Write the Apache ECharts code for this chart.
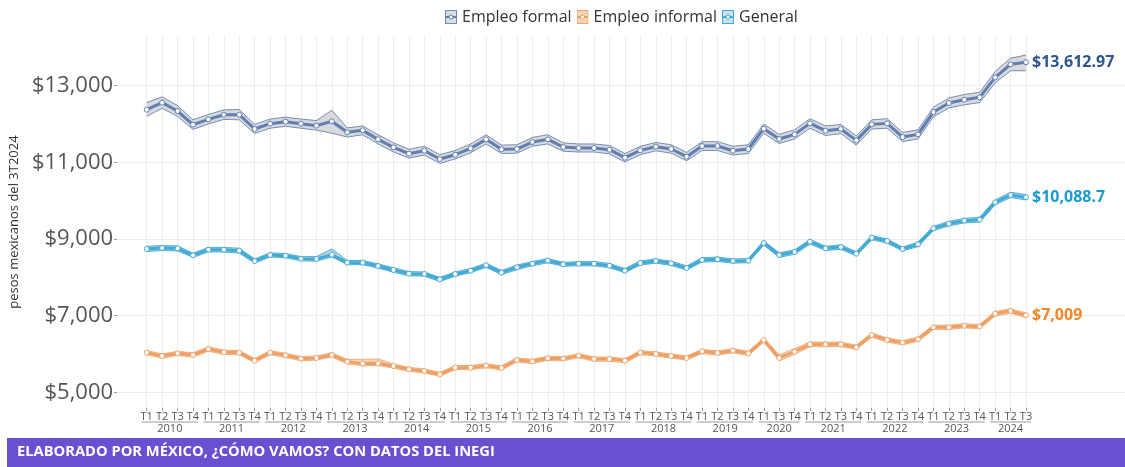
<!DOCTYPE html>
<html>
<head>
<meta charset="utf-8">
<script src="https://cdn.jsdelivr.net/npm/echarts@6/dist/echarts.min.js"></script>
<style>
  html, body { margin: 0; padding: 0; background: #fff; }
  #chart { width: 1125px; height: 467px; }
</style>
</head>
<body>
<div id="chart"></div>
<script>
// periods (2020 T2 is missing in the source data)
const periods = [
    '2010 T1', '2010 T2', '2010 T3', '2010 T4',
    '2011 T1', '2011 T2', '2011 T3', '2011 T4',
    '2012 T1', '2012 T2', '2012 T3', '2012 T4',
    '2013 T1', '2013 T2', '2013 T3', '2013 T4',
    '2014 T1', '2014 T2', '2014 T3', '2014 T4',
    '2015 T1', '2015 T2', '2015 T3', '2015 T4',
    '2016 T1', '2016 T2', '2016 T3', '2016 T4',
    '2017 T1', '2017 T2', '2017 T3', '2017 T4',
    '2018 T1', '2018 T2', '2018 T3', '2018 T4',
    '2019 T1', '2019 T2', '2019 T3', '2019 T4',
    '2020 T1', '2020 T3', '2020 T4',
    '2021 T1', '2021 T2', '2021 T3', '2021 T4',
    '2022 T1', '2022 T2', '2022 T3', '2022 T4',
    '2023 T1', '2023 T2', '2023 T3', '2023 T4',
    '2024 T1', '2024 T2', '2024 T3'
];

const yTicks = [5000, 7000, 9000, 11000, 13000];

const formal = [12374, 12557, 12339, 11983, 12122, 12243, 12243, 11870, 12009, 12061, 12009, 11957,
    12070, 11783, 11835, 11600, 11391, 11226, 11304, 11087, 11200, 11365, 11600, 11339,
    11348, 11530, 11600, 11400, 11374, 11374, 11330, 11122, 11313, 11409, 11348, 11148,
    11426, 11426, 11304, 11348, 11878, 11609, 11730, 12017, 11826, 11870, 11574, 11991,
    12017, 11661, 11730, 12313, 12548, 12635, 12696, 13217, 13557, 13612.97];
const formalHi = [12560, 12710, 12480, 12110, 12250, 12370, 12380, 11990, 12130, 12180, 12130, 12090,
    12360, 11900, 11950, 11720, 11510, 11340, 11420, 11200, 11310, 11480, 11720, 11450,
    11460, 11650, 11720, 11510, 11480, 11480, 11440, 11230, 11420, 11520, 11460, 11260,
    11540, 11540, 11420, 11460, 12000, 11730, 11850, 12140, 11950, 11990, 11690, 12110,
    12140, 11780, 11850, 12440, 12680, 12770, 12830, 13370, 13720, 13800];
const formalLo = [12200, 12410, 12200, 11860, 12000, 12120, 12110, 11750, 11890, 11940, 11890, 11840,
    11760, 11660, 11720, 11480, 11270, 11110, 11190, 10970, 11090, 11250, 11480, 11230,
    11240, 11420, 11480, 11290, 11270, 11270, 11220, 11010, 11200, 11300, 11240, 11040,
    11310, 11310, 11190, 11230, 11760, 11490, 11610, 11890, 11700, 11750, 11450, 11870,
    11890, 11540, 11610, 12190, 12420, 12500, 12560, 13070, 13390, 13390];

const informal = [6035, 5948, 6017, 5974, 6130, 6043, 6035, 5826, 6035, 5965, 5878, 5896,
    5974, 5800, 5748, 5757, 5687, 5600, 5557, 5470, 5643, 5643, 5696, 5635,
    5843, 5809, 5887, 5878, 5957, 5870, 5870, 5826, 6035, 6000, 5948, 5896,
    6070, 6026, 6087, 6017, 6365, 5896, 6061, 6252, 6252, 6252, 6174, 6496,
    6365, 6296, 6383, 6696, 6696, 6739, 6713, 7052, 7122, 7009];
const informalHi = [6090, 6000, 6070, 6030, 6190, 6100, 6090, 5880, 6090, 6020, 5930, 5950,
    6030, 5860, 5860, 5870, 5740, 5650, 5610, 5520, 5700, 5700, 5750, 5690,
    5900, 5860, 5940, 5930, 6010, 5920, 5920, 5880, 6090, 6050, 6000, 5950,
    6120, 6080, 6140, 6070, 6420, 5980, 6140, 6310, 6310, 6310, 6230, 6550,
    6420, 6350, 6440, 6750, 6750, 6790, 6770, 7110, 7180, 7070];
const informalLo = [5980, 5890, 5960, 5920, 6070, 5990, 5980, 5770, 5980, 5910, 5820, 5840,
    5920, 5740, 5690, 5700, 5630, 5550, 5500, 5420, 5590, 5590, 5640, 5580,
    5790, 5750, 5830, 5820, 5900, 5810, 5810, 5770, 5980, 5950, 5890, 5840,
    6010, 5970, 6030, 5960, 6310, 5820, 5990, 6190, 6190, 6190, 6120, 6440,
    6310, 6240, 6330, 6640, 6640, 6680, 6660, 6990, 7060, 6950];

const general = [8739, 8765, 8757, 8574, 8722, 8722, 8696, 8426, 8583, 8565, 8487, 8478,
    8591, 8383, 8383, 8296, 8191, 8096, 8087, 7948, 8087, 8174, 8313, 8122,
    8261, 8357, 8435, 8339, 8357, 8357, 8304, 8174, 8374, 8426, 8365, 8243,
    8452, 8470, 8426, 8435, 8896, 8583, 8661, 8930, 8757, 8791, 8617, 9035,
    8948, 8739, 8861, 9278, 9400, 9478, 9504, 9957, 10148, 10088.7];
const generalHi = [8810, 8830, 8820, 8630, 8780, 8780, 8760, 8480, 8640, 8620, 8540, 8540,
    8740, 8440, 8440, 8350, 8250, 8150, 8140, 8000, 8140, 8230, 8370, 8180,
    8320, 8410, 8490, 8390, 8410, 8410, 8360, 8230, 8430, 8480, 8420, 8300,
    8510, 8530, 8480, 8490, 8950, 8640, 8720, 8990, 8810, 8850, 8670, 9090,
    9000, 8790, 8920, 9330, 9460, 9540, 9570, 10020, 10220, 10160];
const generalLo = [8670, 8700, 8690, 8520, 8660, 8660, 8630, 8370, 8530, 8510, 8430, 8420,
    8530, 8330, 8330, 8240, 8130, 8040, 8030, 7890, 8030, 8120, 8260, 8070,
    8200, 8300, 8380, 8290, 8300, 8300, 8250, 8120, 8320, 8370, 8310, 8190,
    8400, 8410, 8370, 8380, 8840, 8520, 8600, 8870, 8700, 8730, 8560, 8980,
    8890, 8690, 8800, 9220, 9340, 9420, 9440, 9890, 10080, 10020];

const font = '"Open Sans", "DejaVu Sans", sans-serif';
const yMin = 4590, yMax = 14297;

const quarterLabels = periods.map(p => p.split(' ')[1]);
const yearOf = periods.map(p => p.split(' ')[0]);

// first and last index of each year on the axis
const yearGroups = [];
yearOf.forEach((y, i) => {
    const last = yearGroups[yearGroups.length - 1];
    if (last && last[2] === y) last[1] = i;
    else yearGroups.push([i, i, y]);
});

function money(v) {
    return '$' + v.toLocaleString('en-US', { maximumFractionDigits: 2 });
}

function legendIcon(edge, fill, line) {
    const svg = '<svg xmlns="http://www.w3.org/2000/svg" width="12" height="14">' +
        '<rect x="0.5" y="0.5" width="11" height="13" fill="' + fill + '" stroke="' + edge + '"/>' +
        '<line x1="1" y1="7" x2="11" y2="7" stroke="' + line + '" stroke-width="2"/>' +
        '<circle cx="6" cy="7" r="2" fill="#fff" stroke="' + line + '"/></svg>';
    return 'image://data:image/svg+xml;charset=utf-8,' + encodeURIComponent(svg);
}

function makeSeries(name, values, lo, hi, c) {
    return [{
        name: name,
        type: 'line',
        stack: name + '-band',
        data: lo,
        symbol: 'none',
        silent: true,
        lineStyle: { color: c.edge, width: 1 },
        z: 1
    }, {
        name: name,
        type: 'line',
        stack: name + '-band',
        data: hi.map((v, i) => v - lo[i]),
        symbol: 'none',
        silent: true,
        lineStyle: { color: c.edge, width: 1 },
        areaStyle: { color: c.fill, opacity: 1 },
        z: 1
    }, {
        name: name,
        type: 'line',
        data: values,
        symbol: 'circle',
        symbolSize: 5,
        showSymbol: true,
        itemStyle: { color: '#fff', borderColor: c.line, borderWidth: 1 },
        lineStyle: { color: c.line, width: 3 },
        endLabel: {
            show: true,
            formatter: p => money(p.value),
            color: c.label,
            fontFamily: font,
            fontWeight: 'bold',
            fontSize: 16,
            distance: 6
        },
        z: 3
    }];
}

const colFormal = { edge: 'rgba(80,110,160,0.75)', fill: '#d9d9dc', line: '#5e7fb1', label: '#2c5591' };
const colInformal = { edge: 'rgba(238,160,100,0.8)', fill: 'rgba(242,180,130,0.55)', line: '#eea064', label: '#f5862a' };
const colGeneral = { edge: 'rgba(60,165,210,0.85)', fill: 'rgba(150,200,220,0.7)', line: '#42aad4', label: '#1b9bcd' };

const myChart = echarts.init(document.getElementById('chart'), null, { renderer: 'canvas' });

const option = {
    animation: false,
    textStyle: { fontFamily: font },
    legend: {
        top: 4,
        left: 440,
        itemWidth: 12,
        itemHeight: 14,
        itemGap: 5,
        textStyle: { fontSize: 16, color: '#333', fontFamily: font },
        data: [
            { name: 'Empleo formal', icon: legendIcon('#6d8bb8', '#d9dce3', '#5e7fb1') },
            { name: 'Empleo informal', icon: legendIcon('#f0a56c', '#f7d3b5', '#eea064') },
            { name: 'General', icon: legendIcon('#42aad4', '#c4e3ef', '#42aad4') }
        ]
    },
    // grid 0 holds the data, grid 1 only the wider horizontal grid and y labels
    grid: [
        { left: 146.7, right: 99, top: 36, bottom: 59 },
        { left: 104, right: 0, top: 36, bottom: 59 }
    ],
    xAxis: [{
        type: 'category',
        gridIndex: 0,
        data: quarterLabels,
        boundaryGap: false,
        axisLine: { show: false },
        axisTick: { show: true, length: 3, interval: 0, lineStyle: { color: '#999' } },
        axisLabel: { interval: 0, fontSize: 11, color: '#555', margin: 3 },
        splitLine: { show: true, interval: 0, lineStyle: { color: '#ececec', width: 1 } }
    }, {
        type: 'value',
        gridIndex: 1,
        show: false
    }],
    yAxis: [{
        type: 'value',
        gridIndex: 0,
        min: yMin,
        max: yMax,
        show: false
    }, {
        type: 'value',
        gridIndex: 1,
        min: yMin,
        max: yMax,
        name: 'pesos mexicanos del 3T2024',
        nameLocation: 'middle',
        nameGap: 90,
        nameTextStyle: { fontSize: 13, color: '#333', fontFamily: font },
        axisLine: { show: false },
        axisTick: {
            show: true,
            length: 3,
            customValues: yTicks,
            lineStyle: { color: '#999' }
        },
        axisLabel: {
            customValues: yTicks,
            formatter: v => money(v),
            fontSize: 22,
            color: '#555',
            margin: 4
        },
        splitLine: { show: true, lineStyle: { color: '#ececec', width: 1 } }
    }],
    graphic: [{
        type: 'rect',
        left: 7,
        top: 438,
        shape: { width: 1118, height: 29 },
        style: { fill: '#6a4fd1' },
        z: 100
    }, {
        type: 'text',
        left: 17,
        top: 444,
        style: {
            text: 'ELABORADO POR MÉXICO, ¿CÓMO VAMOS? CON DATOS DEL INEGI',
            fill: '#fff',
            font: 'bold 14.7px ' + font
        },
        z: 101
    }],
    series: [].concat(
        makeSeries('Empleo formal', formal, formalLo, formalHi, colFormal),
        makeSeries('Empleo informal', informal, informalLo, informalHi, colInformal),
        makeSeries('General', general, generalLo, generalHi, colGeneral),
        [{
            // year brackets under the quarter labels
            type: 'custom',
            silent: true,
            clip: false,
            data: yearGroups,
            renderItem: function (params, api) {
                const s = api.coord([api.value(0), yMin]);
                const e = api.coord([api.value(1), yMin]);
                const g = yearGroups[params.dataIndex];
                return {
                    type: 'group',
                    children: [{
                        type: 'line',
                        shape: { x1: s[0] - 5, y1: s[1] + 14, x2: e[0] + 5, y2: s[1] + 14 },
                        style: { stroke: '#999', lineWidth: 1 }
                    }, {
                        type: 'text',
                        style: {
                            text: g[2],
                            x: (s[0] + e[0]) / 2,
                            y: s[1] + 15,
                            align: 'center',
                            verticalAlign: 'top',
                            fill: '#555',
                            font: '11px ' + font
                        }
                    }]
                };
            },
            z: 5
        }]
    )
};

myChart.setOption(option);
</script>
</body>
</html>
